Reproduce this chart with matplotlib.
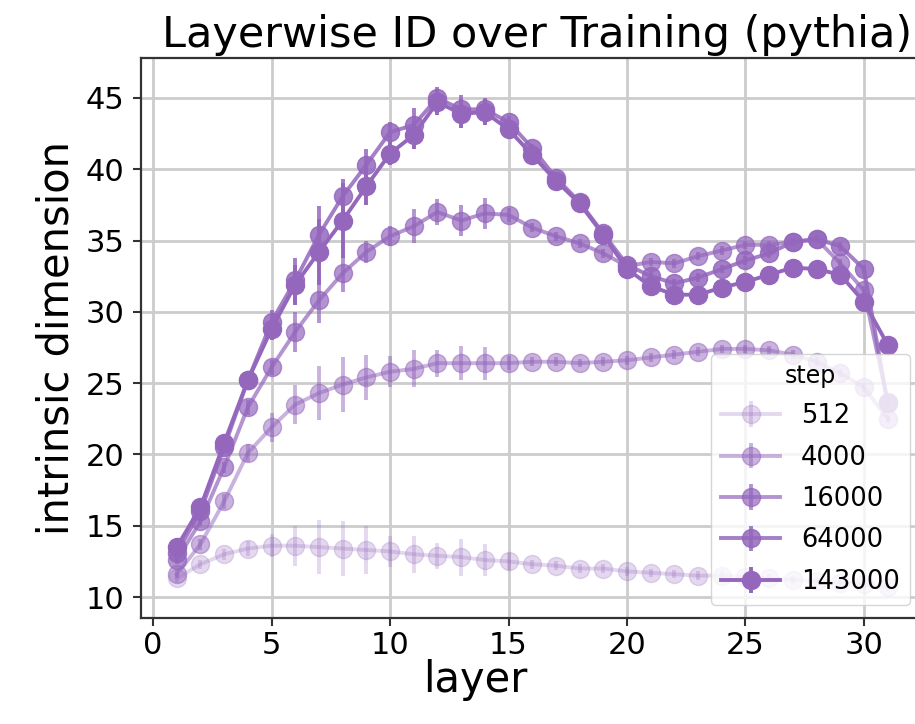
import matplotlib
matplotlib.use("Agg")
import matplotlib.pyplot as plt

# layer index
layers = list(range(1, 32))

# training checkpoints
steps = ["512", "4000", "16000", "64000", "143000"]

# mean intrinsic dimension per layer for each checkpoint
id_512 = [11.3, 12.3, 13.0, 13.4, 13.6, 13.6, 13.5, 13.4, 13.3, 13.2, 13.0,
          12.9, 12.8, 12.6, 12.5, 12.3, 12.2, 12.0, 12.0, 11.8, 11.7, 11.6,
          11.5, 11.5, 11.4, 11.3, 11.2, 11.1, 11.0, 10.9, 10.7]
id_4000 = [11.6, 13.7, 16.7, 20.1, 21.9, 23.5, 24.3, 24.9, 25.4, 25.8, 26.0,
           26.4, 26.4, 26.4, 26.4, 26.5, 26.5, 26.4, 26.5, 26.6, 26.8, 27.0,
           27.2, 27.4, 27.4, 27.3, 27.0, 26.5, 25.7, 24.7, 22.5]
id_16000 = [12.6, 15.3, 19.1, 23.3, 26.1, 28.6, 30.8, 32.7, 34.2, 35.3, 36.0,
            37.0, 36.4, 36.9, 36.8, 35.9, 35.3, 34.8, 34.1, 33.2, 33.5, 33.4,
            33.9, 34.3, 34.7, 34.7, 34.9, 35.1, 33.4, 31.5, 23.7]
id_64000 = [13.1, 16.0, 20.5, 25.2, 29.3, 32.2, 35.4, 38.1, 40.3, 42.6, 43.1,
            45.0, 44.2, 44.2, 43.3, 41.5, 39.4, 37.7, 35.5, 33.3, 32.5, 32.0,
            32.4, 33.0, 33.6, 34.1, 34.9, 35.1, 34.6, 33.0, 23.6]
id_143000 = [13.5, 16.3, 20.8, 25.2, 28.8, 31.9, 34.2, 36.4, 38.8, 41.1, 42.4,
             44.7, 43.9, 44.0, 42.8, 41.0, 39.2, 37.6, 35.4, 33.0, 31.8, 31.2,
             31.2, 31.7, 32.1, 32.6, 33.1, 33.0, 32.6, 30.7, 27.7]

# spread across samples (half-height of error bars)
err_512 = [0.3, 0.3, 0.4, 0.5, 0.8, 1.4, 1.9, 1.9, 1.7, 1.1, 1.3,
           0.9, 1.3, 1.15, 0.6, 0.3, 0.3, 0.3, 0.3, 0.3, 0.3, 0.3,
           0.3, 0.3, 0.3, 0.3, 0.3, 0.3, 0.3, 0.3, 0.3]
err_4000 = [0.3, 0.4, 0.5, 0.6, 1.0, 1.4, 1.9, 1.9, 1.6, 1.1, 1.3,
            0.95, 1.2, 1.15, 0.5, 0.3, 0.3, 0.3, 0.3, 0.3, 0.3, 0.3,
            0.3, 0.3, 0.3, 0.3, 0.3, 0.3, 0.3, 0.3, 0.3]
err_16000 = [0.3, 0.3, 0.4, 0.5, 0.5, 1.4, 1.6, 1.3, 0.8, 0.7, 1.2,
             0.9, 1.1, 1.1, 0.5, 0.3, 0.3, 0.3, 0.3, 0.3, 0.3, 0.3,
             0.3, 0.3, 0.3, 0.3, 0.3, 0.3, 0.3, 0.3, 0.3]
err_64000 = [0.3, 0.4, 0.5, 0.6, 0.8, 1.6, 2.0, 1.2, 1.1, 0.7, 1.2,
             0.8, 1.0, 0.8, 0.4, 0.3, 0.3, 0.3, 0.3, 0.3, 0.3, 0.3,
             0.3, 0.3, 0.3, 0.3, 0.3, 0.3, 0.3, 0.3, 0.3]
err_143000 = [0.3, 0.4, 0.5, 0.6, 0.8, 1.4, 2.3, 2.6, 1.3, 0.8, 1.0,
              0.9, 1.0, 0.9, 0.4, 0.3, 0.3, 0.3, 0.3, 0.3, 0.3, 0.3,
              0.3, 0.3, 0.3, 0.3, 0.3, 0.3, 0.3, 0.3, 0.3]

means = [id_512, id_4000, id_16000, id_64000, id_143000]
errs = [err_512, err_4000, err_16000, err_64000, err_143000]
alphas = [0.25, 0.5, 0.7, 0.85, 1.0]
color = "#9467bd"

fig = plt.figure(figsize=(9.15, 7.24), dpi=100)
# axes runs to the right edge of the canvas; 23.7 px per layer
ax_left, ax_right = 141.2, 915.0
ax = fig.add_axes([ax_left / 915, 106 / 724, (ax_right - ax_left) / 915, 560 / 724])

for step, m, e, a in zip(steps, means, errs, alphas):
    ax.errorbar(layers, m, yerr=e, color=color, alpha=a, marker="o",
                markersize=13, linewidth=2.8, elinewidth=2.8, capsize=0,
                label=step)

ax.set_xlim(-0.5, -0.5 + (ax_right - ax_left) / (782 / 33))
ax.set_ylim(8.53, 47.8)
ax.set_xticks([0, 5, 10, 15, 20, 25, 30])
ax.set_yticks([10, 15, 20, 25, 30, 35, 40, 45])
ax.grid(True, color="#cccccc", linewidth=2.0)
ax.set_axisbelow(True)
ax.tick_params(labelsize=22, length=6, width=1.5, color="#333333")
ax.tick_params(axis="y", pad=6)
for s in ax.spines.values():
    s.set_color("#333333")
    s.set_linewidth(1.6)
ax.spines["right"].set_visible(False)

ax.set_xlabel("layer", fontsize=30, va="top")
ax.xaxis.set_label_coords(0.427 * 782 / (ax_right - ax_left), -0.074)
ax.set_ylabel("intrinsic dimension", fontsize=30, labelpad=6)
ax.set_title("Layerwise ID over Training (pythia)", fontsize=31, pad=8,
             x=(537 - ax_left) / (ax_right - ax_left))

leg = ax.legend(title="step", loc="lower right", fontsize=18.5,
                title_fontsize=17, handlelength=2.3, handletextpad=0.8,
                labelspacing=0.6, borderaxespad=0.5, framealpha=0.8,
                bbox_to_anchor=(1 + 8 / (ax_right - ax_left), 0))

fig.savefig("out.png", dpi=100)
